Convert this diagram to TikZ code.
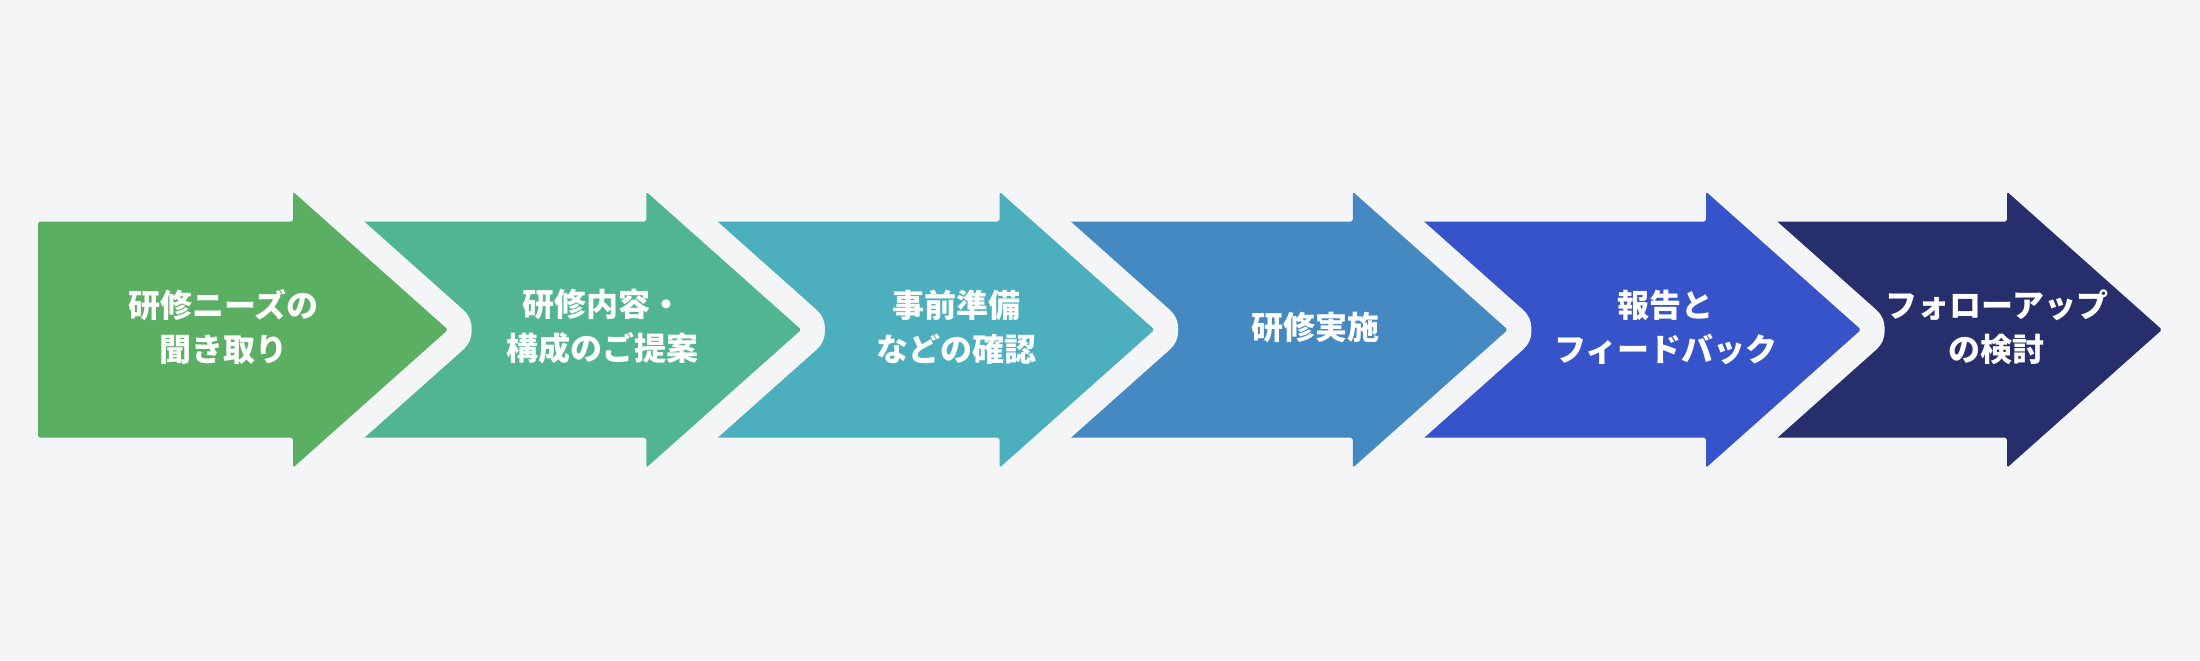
\documentclass[tikz,border=0pt]{standalone}
\usepackage{fontspec}
\newfontfamily\jpfont{Noto Sans CJK JP}
\definecolor{bgcol}{HTML}{F4F5F7}
\definecolor{stepA}{HTML}{5AAF62}
\definecolor{stepB}{HTML}{52B592}
\definecolor{stepC}{HTML}{4BAFBD}
\definecolor{stepD}{HTML}{4589C3}
\definecolor{stepE}{HTML}{3753C9}
\definecolor{stepF}{HTML}{262E6B}
\tikzset{
  halo/.style={preaction={draw=bgcol, line width=0.5cm, line join=round}},
  flowarrow/.style={halo, rounded corners=0.5pt},
  steplabel/.style={text=white, align=center,
    font=\jpfont\bfseries\fontsize{9.1}{12.5}\selectfont}
}
\begin{document}
\begin{tikzpicture}[x=0.01cm, y=-0.01cm]
    % --- 寸法 ---
    % 胴の上下, 矢じりの上下, 中心線
    \def\bodyTop{221.7}
    \def\bodyBot{437.7}
    \def\headTop{191.7}
    \def\headBot{467.7}
    \def\midY{329.7}
    % 矢じりの長さ
    \def\headLen{155}
    % 矢印の形: #1 = 左端, #2 = 矢じりの付け根
    \def\flowpath#1#2{(#1,\bodyTop) -- (#2,\bodyTop) -- (#2,\headTop)
      -- (#2+\headLen,\midY) -- (#2,\headBot) -- (#2,\bodyBot)
      -- (#1,\bodyBot) -- cycle}

    % --- 背景 ---
    \fill[bgcol] (0,0) rectangle (2200,660);
    \useasboundingbox (0,0) rectangle (2200,660);

    % --- 矢印 (右から順に重ねる) ---
    \fill[flowarrow, stepF] \flowpath{1716}{2007};
    \fill[flowarrow, stepE] \flowpath{1363}{1706};
    \fill[flowarrow, stepD] \flowpath{1009}{1352.75};
    \fill[flowarrow, stepC] \flowpath{656}{999.5};
    \fill[flowarrow, stepB] \flowpath{303}{646.25};
    \fill[flowarrow, stepA] \flowpath{38}{293};

    % --- ラベル ---
    \node[steplabel] (hearing) at (223.5,327) {研修ニーズの\\聞き取り};
    \node[steplabel] (proposal) at (602,327) {研修内容・\\構成のご提案};
    \node[steplabel] (prep) at (956.7,327) {事前準備\\などの確認};
    \node[steplabel] (training) at (1315,327) {研修実施};
    \node[steplabel] (report) at (1665.8,327) {報告と\\フィードバック};
    \node[steplabel] (followup) at (1996.7,327) {フォローアップ\\の検討};

\end{tikzpicture}
\end{document}
